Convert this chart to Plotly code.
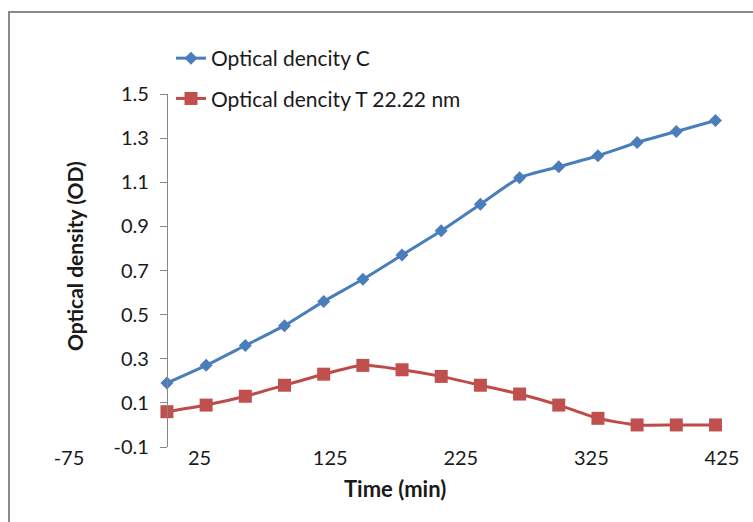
import plotly.graph_objects as go

time_min = [0, 30, 60, 90, 120, 150, 180, 210, 240, 270, 300, 330, 360, 390, 420]
od_control = [0.19, 0.27, 0.36, 0.45, 0.56, 0.66, 0.77, 0.88, 1.00, 1.12, 1.17, 1.22, 1.28, 1.33, 1.38]
od_treated = [0.06, 0.09, 0.13, 0.18, 0.23, 0.27, 0.25, 0.22, 0.18, 0.14, 0.09, 0.03, 0.0, 0.0, 0.0]

x_ticks = [-75, 25, 125, 225, 325, 425]
x_ticktext = ["-75", "25", "125", "225", "325", "425"]
y_ticks = [-0.1, 0.1, 0.3, 0.5, 0.7, 0.9, 1.1, 1.3, 1.5]
y_ticktext = ["-0.1", "0.1", "0.3", "0.5", "0.7", "0.9", "1.1", "1.3", "1.5"]

name_c = "Optical dencity C"
name_t = "Optical dencity T 22.22 nm"

FONT = "Lato"
TXT = "#1a1a1a"
AX = "#868686"

W, H = 753, 522
ML, MR, MT, MB = 69, 31, 94, 75
PW = W - ML - MR
PH = H - MT - MB

x_range = [-75, 425]
y_range = [-0.1, 1.5]

def px_x(p):
    return (p - ML) / PW

def px_y(p):
    return (H - MB - p) / PH

fig = go.Figure()
fig.add_trace(go.Scatter(
    x=time_min, y=od_control, name=name_c, mode="lines+markers",
    line=dict(color="#4A7EBB", width=3, shape="spline", smoothing=0.6),
    marker=dict(symbol="diamond", size=10, color="#4A7EBB"),
    legendgroup="c",
))
fig.add_trace(go.Scatter(
    x=time_min, y=od_treated, name=name_t, mode="lines+markers",
    line=dict(color="#BE4B48", width=3, shape="spline", smoothing=0.6),
    marker=dict(symbol="square", size=13, color="#C0504D"),
    legendgroup="t",
))

x_zero_pos = (0 - y_range[0]) / (y_range[1] - y_range[0])
y_zero_pos = (0 - x_range[0]) / (x_range[1] - x_range[0])

fig.update_layout(
    width=W, height=H,
    margin=dict(l=ML, r=MR, t=MT, b=MB, pad=0),
    paper_bgcolor="white", plot_bgcolor="white",
    font=dict(family=FONT, size=20, color=TXT),
    xaxis=dict(
        range=x_range, tickmode="array", tickvals=x_ticks, ticktext=x_ticktext,
        showline=False, showgrid=False, zeroline=False, ticks="",
        ticklabelstandoff=-3,
        tickfont=dict(family=FONT, size=20, color=TXT),
    ),
    xaxis2=dict(
        overlaying="x", matches="x", anchor="free", position=x_zero_pos,
        range=x_range, tickmode="array", tickvals=x_ticks,
        showline=True, linecolor=AX, linewidth=1,
        ticks="outside", ticklen=7, tickcolor=AX, tickwidth=1,
        showticklabels=False, showgrid=False, zeroline=False,
    ),
    yaxis=dict(
        range=y_range, anchor="free", position=y_zero_pos,
        tickmode="array", tickvals=y_ticks, ticktext=y_ticktext,
        showline=True, linecolor=AX, linewidth=1,
        ticks="outside", ticklen=7, tickcolor=AX, tickwidth=1,
        ticklabelstandoff=7,
        showgrid=False, zeroline=False,
        tickfont=dict(family=FONT, size=20, color=TXT),
    ),
    legend=dict(
        x=px_x(171), y=px_y(38), xanchor="left", yanchor="top",
        traceorder="grouped", tracegroupgap=10,
        bgcolor="rgba(0,0,0,0)", font=dict(family=FONT, size=21, color=TXT),
    ),
    shapes=[dict(
        type="rect", xref="paper", yref="paper",
        x0=px_x(9), x1=px_x(770), y0=px_y(540), y1=px_y(12),
        line=dict(color="#8a8a8a", width=2), fillcolor="rgba(0,0,0,0)",
    )],
    annotations=[
        dict(text="<b>Optical density (OD)</b>", xref="paper", yref="paper",
             x=px_x(74), y=px_y(256), textangle=-90, showarrow=False,
             font=dict(family=FONT, size=21, color=TXT),
             xanchor="center", yanchor="middle"),
        dict(text="<b>Time (min)</b>", xref="paper", yref="paper",
             x=px_x(395), y=px_y(488), showarrow=False,
             font=dict(family=FONT, size=22, color=TXT),
             xanchor="center", yanchor="middle"),
    ],
)

fig.write_html("out.html", config={"displayModeBar": False},
               post_script="document.body.style.margin='0px';")
